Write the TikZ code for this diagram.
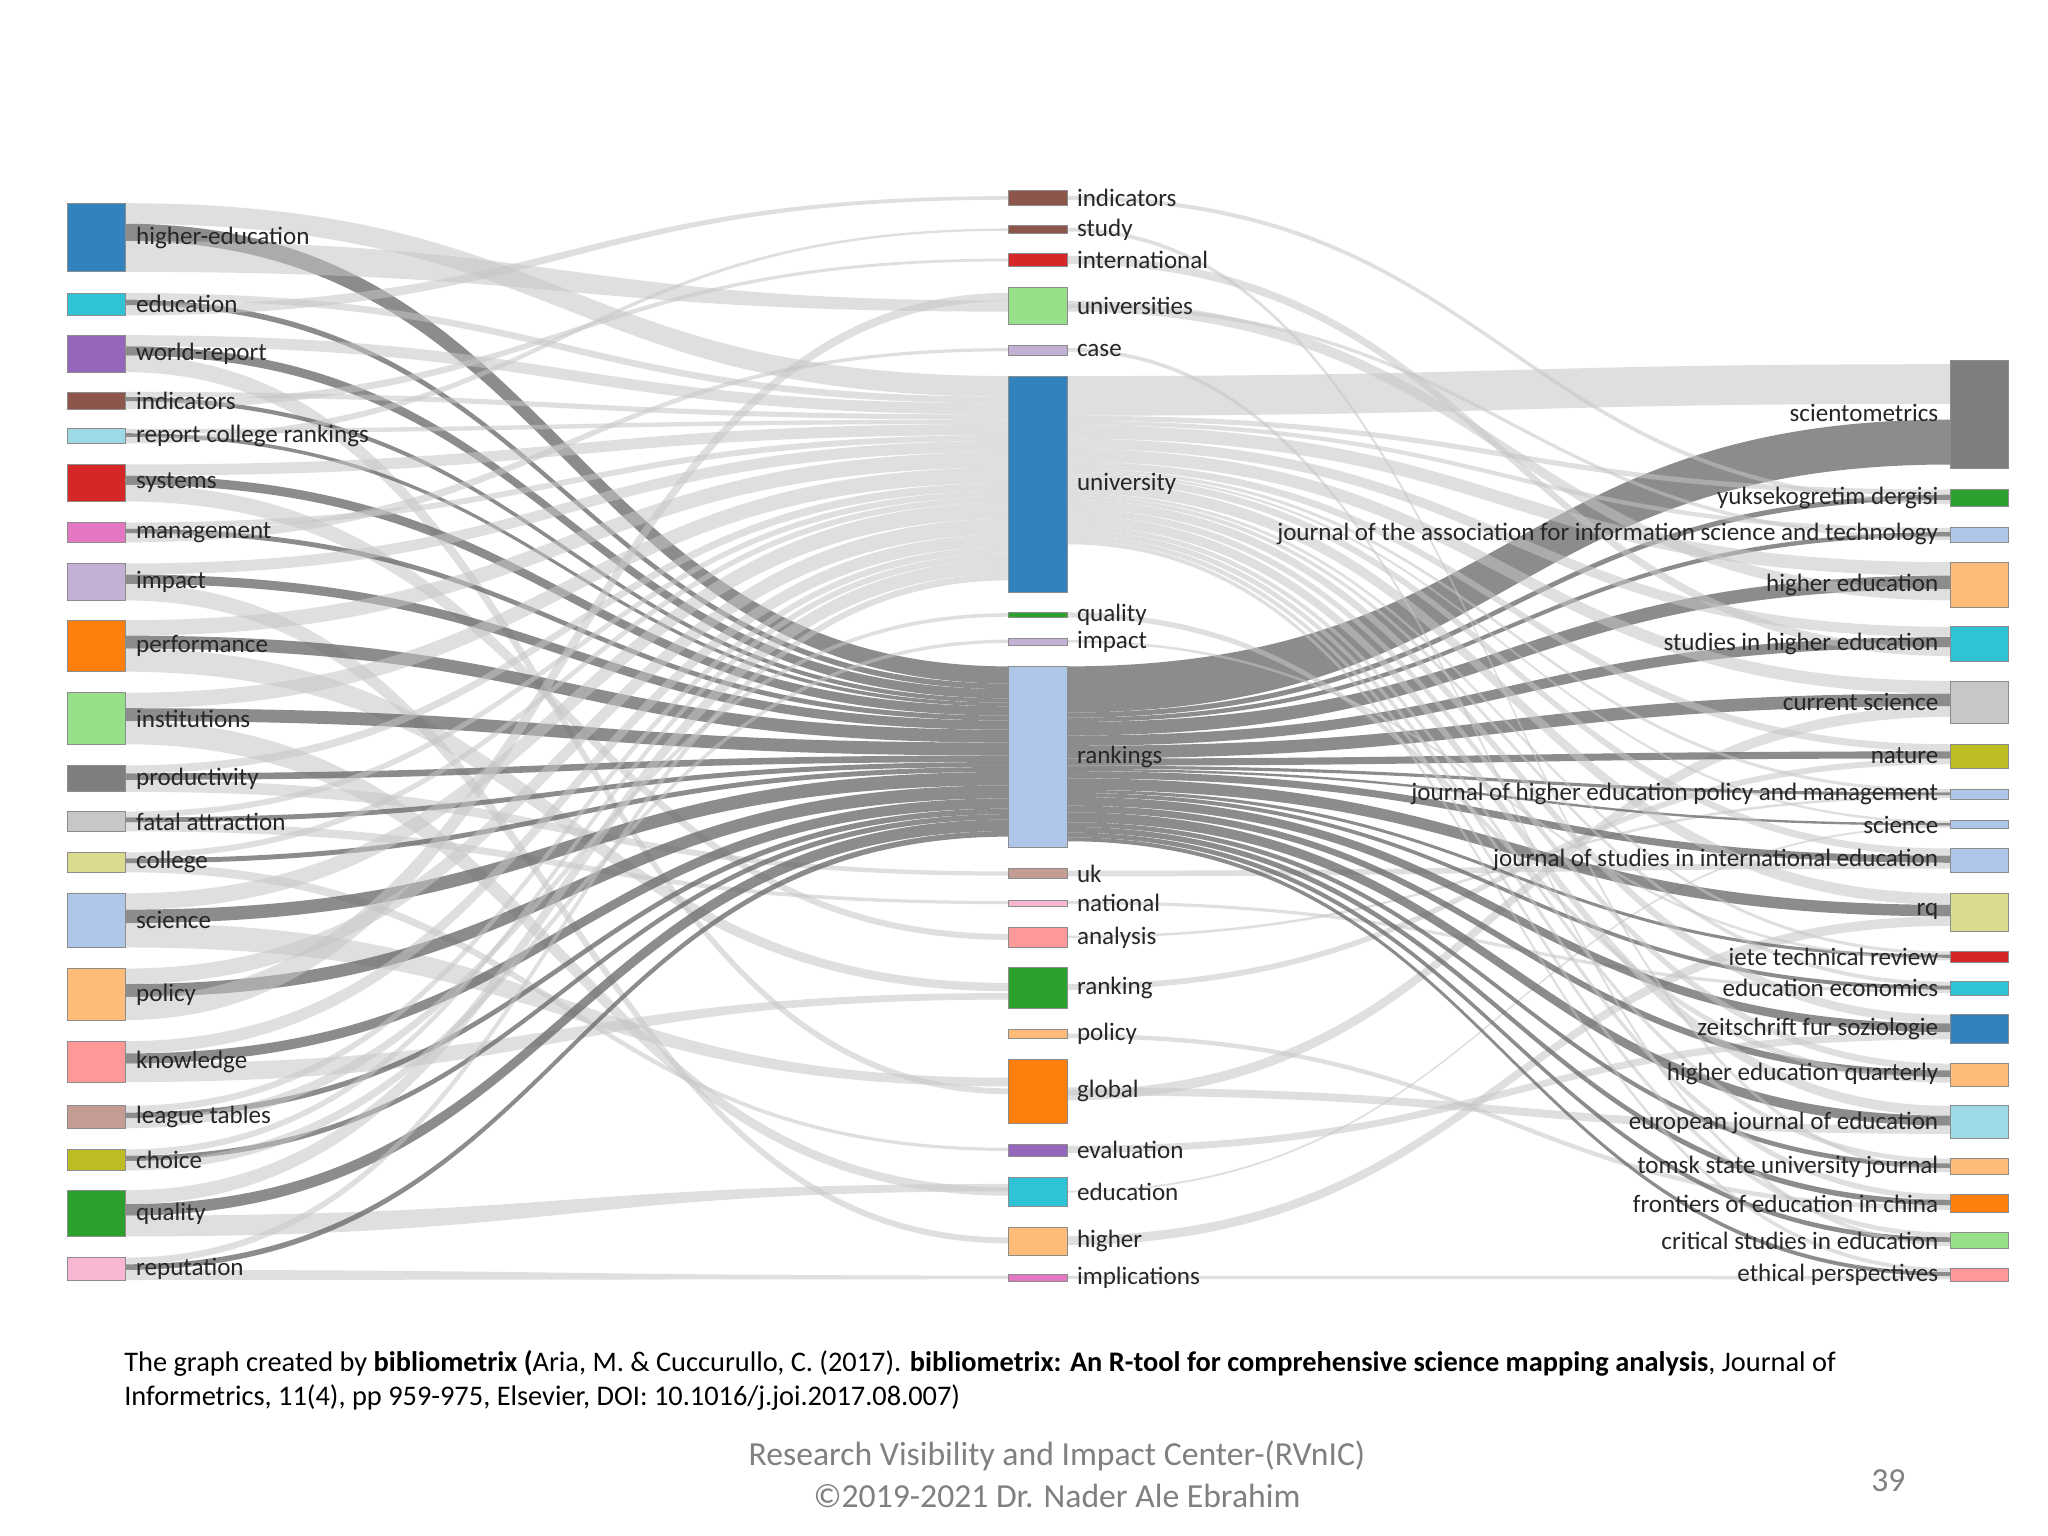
\documentclass[tikz,border=0pt]{standalone}
\usepackage{fontspec}
\setmainfont{Carlito}
\newcommand\band[7]{\fill[#7] (#1,#2) .. controls ({(#1+#4)/2},#2) and ({(#1+#4)/2},#5) .. (#4,#5) -- (#4,#6) .. controls ({(#1+#4)/2},#6) and ({(#1+#4)/2},#3) .. (#1,#3) -- cycle;}
\begin{document}
\begin{tikzpicture}[x=1pt,y=-1pt,
  lf/.style={fill=gray!45,opacity=0.55},
  df/.style={fill=black!60,opacity=0.75},
  box/.style={draw=black!45,line width=0.6pt,inner sep=0,minimum width=44pt},
  lab/.style={font=\fontsize{19}{21}\selectfont,text=black!85,inner sep=1pt}]
\useasboundingbox (0,0) rectangle (1552,1164);
\fill[white] (0,0) rectangle (1552,1164);
% ---- left flows
\gdef\uc{285}\gdef\rc{505}
\foreach \t/\b/\m in {154/206/232,222/239/150,254/282/827,297/310/197,325/336/174,352/380/710,396/411/265,427/455/940,470/509/748,525/564/903,580/600/662,615/630/684,646/661/871,677/718/820,734/773/225,789/820/755,838/855/466,871/887/486,902/937/900,953/970/968}{
  \pgfmathsetmacro\h{\b-\t}
  \pgfmathsetmacro\ub{\t+0.3*\h}
  \pgfmathsetmacro\rb{\t+0.55*\h}
  \pgfmathsetmacro\ue{\uc+0.3*\h}
  \pgfmathsetmacro\re{\rc+0.25*\h}
  \band{95}{\t}{\ub}{765}{\uc}{\ue}{lf}
  \band{95}{\ub}{\rb}{765}{\rc}{\re}{df}
  \pgfmathsetmacro\ma{\m-0.08*\h}
  \pgfmathsetmacro\mb{\m+0.08*\h}
  \band{95}{\rb}{\b}{765}{\ma}{\mb}{lf}
  \xdef\uc{\ue}\xdef\rc{\re}
}
% ---- right flows
\band{808}{285}{315}{1478}{276}{306}{lf}
\band{808}{505}{540}{1478}{318}{352}{df}
\gdef\uc{315}\gdef\rc{540}
\foreach \t/\b/\m in {371/384/150,400/411/232,426/460/232,475/501/197,516/548/830,564/582/748,598/606/710,622/628/903,643/661/662,677/706/940,721/729/486,744/754/684,769/791/871,806/823/466,838/863/827,878/890/174,905/919/785,934/946/265,961/971/968}{
  \pgfmathsetmacro\h{\b-\t}
  \pgfmathsetmacro\ub{\t+0.3*\h}
  \pgfmathsetmacro\rb{\t+0.6*\h}
  \pgfmathsetmacro\ob{\t+0.85*\h}
  \pgfmathsetmacro\ue{\uc+0.3*\h}
  \pgfmathsetmacro\re{\rc+0.3*\h}
  \band{808}{\uc}{\ue}{1478}{\t}{\ub}{lf}
  \band{808}{\rc}{\re}{1478}{\ub}{\rb}{df}
  \pgfmathsetmacro\ma{\m-0.12*\h}
  \pgfmathsetmacro\mb{\m+0.12*\h}
  \band{808}{\ma}{\mb}{1478}{\rb}{\ob}{lf}
  \xdef\uc{\ue}\xdef\rc{\re}
}
% ---- left nodes
\foreach \t/\b/\c/\l [count=\i] in {154/206/3182BD/higher-education,222/239/2EC4D6/education,254/282/9467BD/world-report,297/310/8C564B/indicators,325/336/9EDAE5/report college rankings,352/380/D62728/systems,396/411/E377C2/management,427/455/C5B0D5/impact,470/509/FF7F0E/performance,525/564/98DF8A/institutions,580/600/7F7F7F/productivity,615/630/C7C7C7/fatal attraction,646/661/DBDB8D/college,677/718/AEC7E8/science,734/773/FFBB78/policy,789/820/FF9896/knowledge,838/855/C49C94/league tables,871/887/BCBD22/choice,902/937/2CA02C/quality,953/970/F7B6D2/reputation}{
  \pgfmathsetmacro\h{\b-\t}\definecolor{cc}{HTML}{\c}
  \node[box,fill=cc,minimum height=\h pt] (L\i) at (73,{(\t+\b)/2}) {};
  \node[lab,anchor=west] (LL\i) at (102,{(\t+\b)/2}) {\l};
}
% ---- middle nodes
\foreach \t/\b/\c/\l [count=\i] in {144/156/8C564B/indicators,171/177/8C564B/study,192/202/D62728/international,218/246/98DF8A/universities,262/269/C5B0D5/case,285/449/3182BD/university,464/468/2CA02C/quality,484/489/C5B0D5/impact,505/642/AEC7E8/rankings,658/666/C49C94/uk,682/687/F7B6D2/national,703/718/FF9896/analysis,733/764/2CA02C/ranking,780/787/FFBB78/policy,803/851/FF7F0E/global,867/876/9467BD/evaluation,892/914/2EC4D6/education,930/951/FFBB78/higher,966/971/E377C2/implications}{
  \pgfmathsetmacro\h{\b-\t}\definecolor{cc}{HTML}{\c}
  \node[box,fill=cc,minimum height=\h pt] (M\i) at (786.5,{(\t+\b)/2}) {};
  \node[lab,anchor=west] (ML\i) at (815,{(\t+\b)/2}) {\l};
}
% ---- right nodes
\foreach \t/\b/\c/\l [count=\i] in {273/355/7F7F7F/scientometrics,371/384/2CA02C/yuksekogretim dergisi,400/411/AEC7E8/journal of the association for information science and technology,426/460/FFBB78/higher education,475/501/2EC4D6/studies in higher education,516/548/C7C7C7/current science,564/582/BCBD22/nature,598/606/AEC7E8/journal of higher education policy and management,622/628/AEC7E8/science,643/661/AEC7E8/journal of studies in international education,677/706/DBDB8D/rq,721/729/D62728/iete technical review,744/754/2EC4D6/education economics,769/791/3182BD/zeitschrift fur soziologie,806/823/FFBB78/higher education quarterly,838/863/9EDAE5/european journal of education,878/890/FFBB78/tomsk state university journal,905/919/FF7F0E/frontiers of education in china,934/946/98DF8A/critical studies in education,961/971/FF9896/ethical perspectives}{
  \pgfmathsetmacro\h{\b-\t}\definecolor{cc}{HTML}{\c}
  \node[box,fill=cc,minimum height=\h pt] (R\i) at (1500,{(\t+\b)/2}) {};
}
\foreach \y/\l [count=\i] in {313/scientometrics,377/yuksekogretim dergisi,405/journal of the association for information science and technology,443/higher education,488/studies in higher education,532/current science,573/nature,602/journal of higher education policy and management,625/science,652/journal of studies in international education,691/rq,725/iete technical review,749/education economics,780/zeitschrift fur soziologie,814/higher education quarterly,851/european journal of education,884/tomsk state university journal,912/frontiers of education in china,940/critical studies in education,966/ethical perspectives}{
  \node[lab,anchor=east] (RL\i) at (1470,\y) {\l};
}
% ---- footer
\node[anchor=west,inner sep=0,font=\fontsize{21.5}{23}\selectfont] (cap1) at (94,1033) {The graph created by \textbf{bibliometrix (}Aria, M. \& Cuccurullo, C. (2017). \textbf{bibliometrix: An R-tool for comprehensive science mapping analysis}, Journal of};
\node[anchor=west,inner sep=0,font=\fontsize{21.5}{23}\selectfont] (cap2) at (94,1059) {Informetrics, 11(4), pp 959-975, Elsevier, DOI: 10.1016/j.joi.2017.08.007)};
\node[inner sep=0,text=black!50,font=\fontsize{25.5}{27}\selectfont] (f1) at (801,1103) {Research Visibility and Impact Center-(RVnIC)};
\node[inner sep=0,text=black!50,font=\fontsize{25.5}{27}\selectfont] (f2) at (801,1134) {©2019-2021 Dr. Nader Ale Ebrahim};
\node[inner sep=0,text=black!50,font=\fontsize{25.5}{27}\selectfont] (pg) at (1431,1122) {39};
\end{tikzpicture}
\end{document}
